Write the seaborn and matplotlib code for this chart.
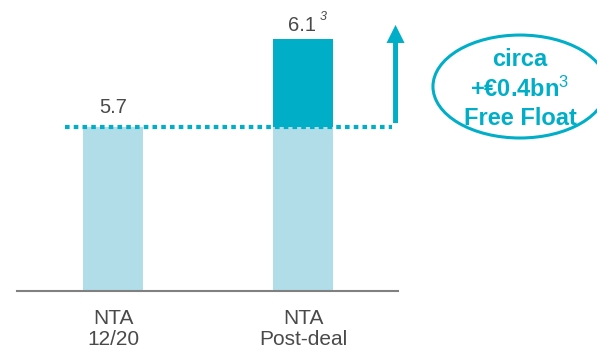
import matplotlib
matplotlib.use("Agg")
import matplotlib.pyplot as plt
import seaborn as sns
from matplotlib.patches import Ellipse

# data
categories = ["NTA\n12/20", "NTA\nPost-deal"]
nta_base = [5.7, 5.7]
nta_total = [5.7, 6.1]
value_labels = ["5.7", "6.1"]
note_lines = ["circa", "+€0.4bn$^{3}$", "Free Float"]

teal = "#00aec7"
light = "#b1dde9"
grey_text = "#4a4a4a"

sns.set_style("white")
plt.rcParams["font.family"] = ["Liberation Sans", "DejaVu Sans"]
plt.rcParams["mathtext.fontset"] = "custom"
plt.rcParams["mathtext.rm"] = "Liberation Sans"
plt.rcParams["mathtext.it"] = "Liberation Sans:italic"
plt.rcParams["mathtext.bf"] = "Liberation Sans:bold"

fig = plt.figure(figsize=(5.97, 3.49), dpi=100)
ax = fig.add_axes([0, 58 / 349, 1, 291 / 349])

# dark (post-deal total) first, light base drawn over it
sns.barplot(x=categories, y=nta_total, color=teal, width=0.316, saturation=1,
            errorbar=None, linewidth=0, ax=ax)
sns.barplot(x=categories, y=nta_base, color=light, width=0.316, saturation=1,
            errorbar=None, linewidth=0, ax=ax)

ax.set_xlim(-113 / 190, (597 - 113) / 190)
ax.set_ylim(4.9545, 6.2773)

for sp in ["left", "top", "right"]:
    ax.spines[sp].set_visible(False)
ax.spines["bottom"].set_color("#808080")
ax.spines["bottom"].set_linewidth(1.5)
ax.spines["bottom"].set_bounds(-0.505, 1.5)
ax.set_yticks([])
ax.tick_params(axis="x", length=0, pad=13, labelsize=15, labelcolor=grey_text)
for lbl in ax.get_xticklabels():
    lbl.set_linespacing(1.1)
ax.set_xlabel("")
ax.set_ylabel("")

# value labels
ax.annotate(value_labels[0], xy=(0, nta_total[0]), xytext=(0, 10), textcoords="offset points",
            ha="center", va="baseline", fontsize=14.5, color=grey_text)
ax.annotate(value_labels[1], xy=(1, nta_total[1]), xytext=(-1, 5.8), textcoords="offset points",
            ha="center", va="baseline", fontsize=14.5, color=grey_text)
ax.annotate("3", xy=(1, nta_total[1]), xytext=(12, 13.5), textcoords="offset points",
            ha="left", va="baseline", fontsize=9, style="italic", color=grey_text)

# dotted reference line at the base NTA
ax.plot([-0.2526, 1.468], [nta_base[0], nta_base[0]], color=teal, lw=3,
        linestyle=(0, (1.1, 1.0)), solid_capstyle="butt", dash_capstyle="butt", zorder=3)

# upward arrow
ax.arrow(1.487, 5.718, 0, 6.164 - 5.718, width=0.026, head_width=0.095,
         head_length=0.082, length_includes_head=True, color=teal, lw=0, zorder=3)

# ellipse callout
ax.add_patch(Ellipse((2.142, 5.884), 0.916, 0.468, fill=False, edgecolor=teal,
                     lw=2.2, clip_on=False))
for txt, yy in zip(note_lines, [5.977, 5.836, 5.709]):
    ax.text(2.142, yy, txt, ha="center", va="baseline", fontsize=17,
            fontweight="bold", color=teal)

fig.savefig("out.png", dpi=100)
